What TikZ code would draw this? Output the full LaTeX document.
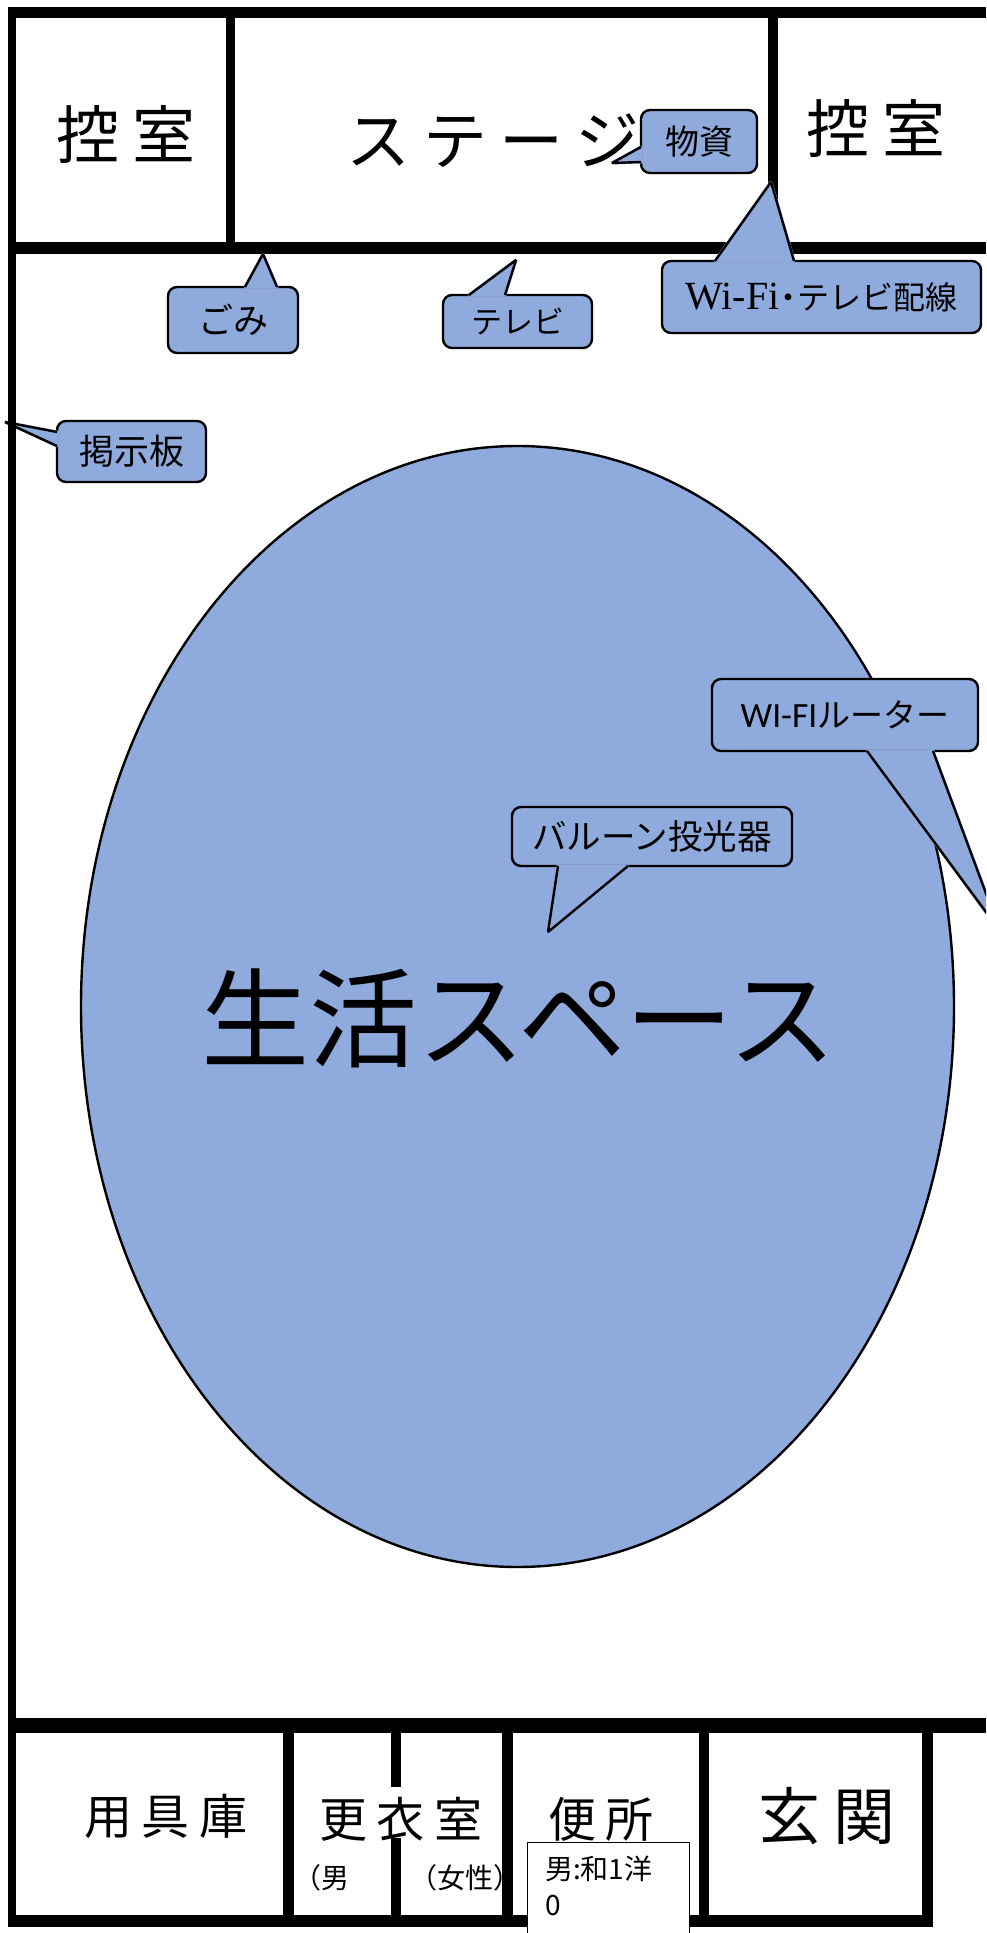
\documentclass[tikz,border=0pt]{standalone}
\usepackage{fontspec}
\usetikzlibrary{shapes.geometric}
\setmainfont{Noto Sans CJK JP}
\newfontfamily\roomfont[LetterSpace=20]{Noto Sans CJK JP}
\newfontfamily\serifrm{Liberation Serif}
\newfontfamily\carlitorm{Carlito}
\definecolor{balloonblue}{HTML}{8FAADC}
\tikzset{
  wall/.style={fill=black},
  roomlabel/.style={inner sep=0, font=\roomfont\fontsize{#1}{#1}\selectfont},
  smalllabel/.style={inner sep=0, font=\fontsize{28}{28}\selectfont},
  balloon/.style={draw, fill=balloonblue, line width=2.4, rounded corners=9, inner sep=0, font=\fontsize{34}{34}\selectfont},
  tailcover/.style={draw=balloonblue, fill=balloonblue, line width=3, line join=bevel},
  tailline/.style={draw, line width=2.4, line join=bevel}
}
\newcommand{\balloontail}[3]{%
  \path[tailcover] #1 -- #2 -- #3 -- cycle;
  \path[tailline] #1 -- #2 -- #3;
}
\begin{document}
\begin{tikzpicture}[x=1pt,y=-1pt]
  \clip (0,0) rectangle (986,1933);
  \fill[white] (0,0) rectangle (986,1933);
  \node (space)[draw, ellipse, fill=balloonblue, line width=2.4, minimum width=873, minimum height=1121, inner sep=0] at (517.5,1006.5) {};
  \node (board)[balloon, minimum width=149, minimum height=61] at (131.5,451.5) {\fontsize{35}{35}\selectfont 掲示板};
  \coordinate (boardtip) at (5,422);
  \balloontail{(57,432)}{(boardtip)}{(57,446)}
  \fill[wall] (8,7) rectangle (986,18);
  \fill[wall] (8,7) rectangle (16,1927);
  \fill[wall] (8,242) rectangle (986,254);
  \fill[wall] (226,18) rectangle (235,242);
  \fill[wall] (768,18) rectangle (778,242);
  \fill[wall] (8,1718) rectangle (986,1733);
  \fill[wall] (8,1915) rectangle (933,1927);
  \fill[wall] (283,1733) rectangle (294,1915);
  \fill[wall] (391,1733) rectangle (401,1787);
  \fill[wall] (391,1838) rectangle (401,1915);
  \fill[wall] (502,1733) rectangle (513,1915);
  \fill[wall] (699,1733) rectangle (709,1915);
  \fill[wall] (922,1733) rectangle (933,1915);
  \node (waitleft)[roomlabel=63] at (126,135) {控室};
  \node (stage)[roomlabel=64] at (493,141) {ステージ};
  \node (waitright)[roomlabel=63] at (876,129) {控室};
  \node (storage)[roomlabel=48] at (166,1816) {用具庫};
  \node (changing)[roomlabel=48, node distance=235, right of=storage, yshift=-3] {更衣室};
  \node (toilet)[roomlabel=48, node distance=435, right of=storage, yshift=-3] {便所};
  \node (entrance)[roomlabel=62, node distance=661, right of=storage] {玄関};
  \node (men)[smalllabel, anchor=east] at (350,1878) {（男};
  \node (women)[smalllabel] at (465,1878) {（女性）};
  \node (supplies)[balloon, minimum width=116, minimum height=63] at (699,141.5) {\raisebox{-2pt}{物資}};
  \coordinate (suppliestip) at (612,163);
  \balloontail{(641,147)}{(suppliestip)}{(641,162)}
  \node (trash)[balloon, minimum width=130, minimum height=66] at (233,320) {\fontsize{35}{35}\selectfont ごみ};
  \coordinate (trashtip) at (263,254);
  \balloontail{(245,287)}{(trashtip)}{(277,287)}
  \node (tv)[balloon, minimum width=149, minimum height=53] at (517.5,321.5) {\fontsize{31}{31}\selectfont テレビ};
  \coordinate (tvtip) at (516,260);
  \balloontail{(469,295)}{(tvtip)}{(505,295)}
  \node (wiring)[balloon, minimum width=319, minimum height=72] at (821.5,297) {{\serifrm\fontsize{40}{40}\selectfont Wi-Fi}\kern-7pt{\fontsize{32}{32}\selectfont ・}\kern-7pt{\fontsize{32}{32}\selectfont テレビ配線}};
  \coordinate (wiringtip) at (771,182);
  \balloontail{(715,261)}{(wiringtip)}{(794,261)}
  \node (router)[balloon, minimum width=266, minimum height=72] at (845,715) {{\carlitorm\fontsize{35.5}{35.5}\selectfont WI-FI}{\fontsize{33}{33}\selectfont ルーター}};
  \coordinate (routertip) at (1000,931);
  \balloontail{(867,751)}{(routertip)}{(933,751)}
  \node (projector)[balloon, minimum width=280, minimum height=59] at (652,836.5) {\fontsize{34.5}{34.5}\selectfont バルーン投光器};
  \coordinate (projectortip) at (548,932);
  \balloontail{(558,866)}{(projectortip)}{(628,866)}
  \node (living)[inner sep=0, font=\fontsize{108}{108}\selectfont] at (519,1018) {生活スペース};
  \node (toiletcount)[draw, fill=white, line width=1, minimum width=162, minimum height=110, anchor=north west, inner sep=0] at (527,1842) {};
  \node (toilettext)[smalllabel, anchor=north west, align=left, font=\fontsize{28}{36}\selectfont] at (545,1856) {男:和1洋\\0};
\end{tikzpicture}
\end{document}
